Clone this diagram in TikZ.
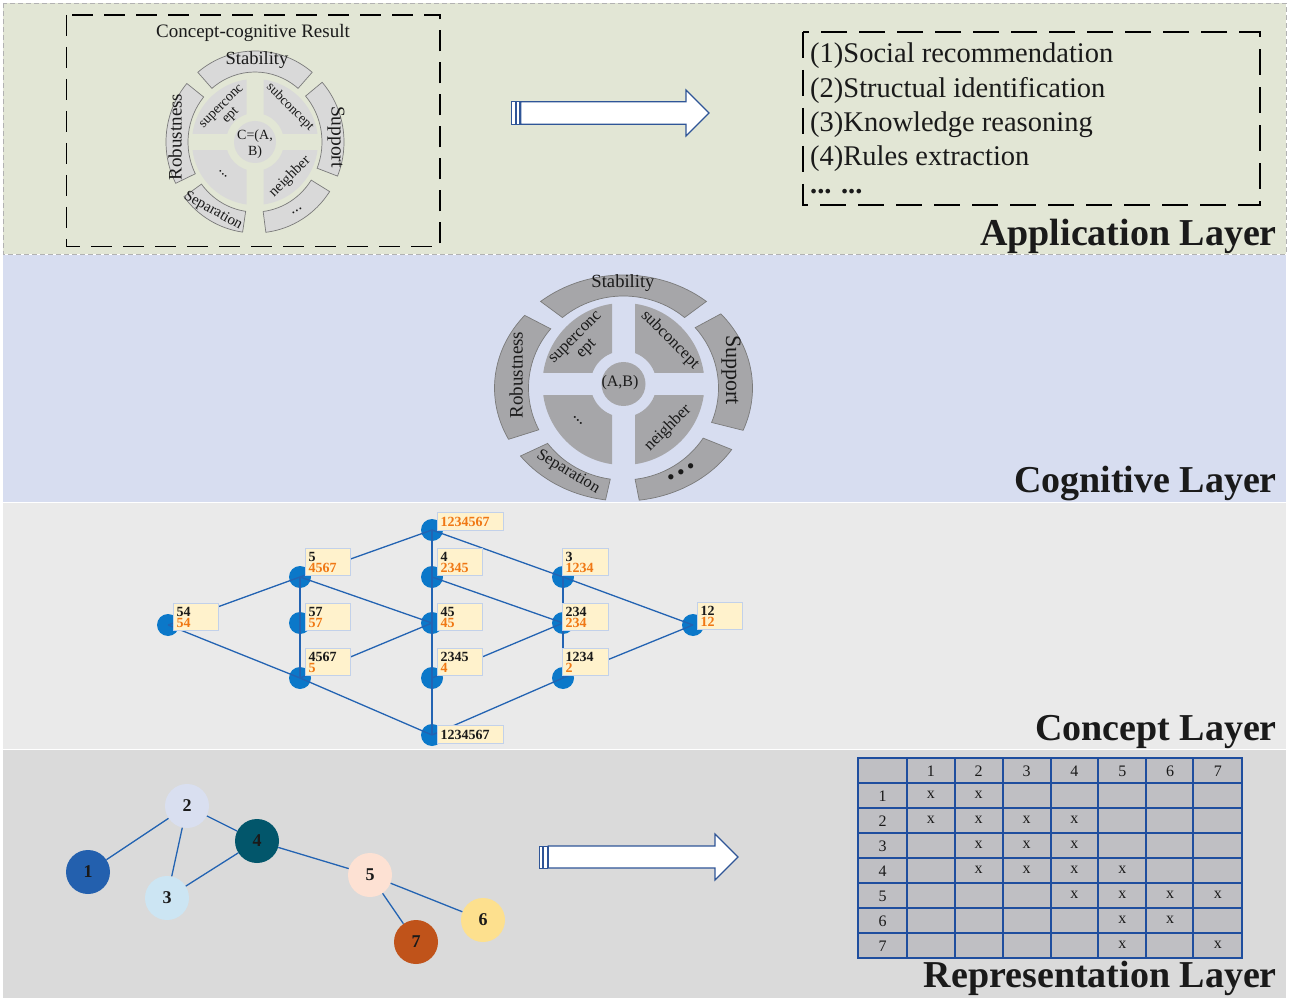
\documentclass[tikz,border=0pt]{standalone}
\usepackage{fontspec}
\setmainfont{Liberation Serif}
\usetikzlibrary{calc}

\definecolor{appbg}{HTML}{E2E6D5}
\definecolor{cogbg}{HTML}{D7DDF0}
\definecolor{conbg}{HTML}{EAEAEA}
\definecolor{repbg}{HTML}{DADADA}
\definecolor{inkc}{HTML}{1A1A1A}
\definecolor{wheellight}{HTML}{D9D9D9}
\definecolor{wheeldark}{HTML}{A6A6A9}
\definecolor{wheeledge}{HTML}{7A7A7A}
\definecolor{edgeblue}{HTML}{2363B2}
\definecolor{dotblue}{HTML}{0B78C9}
\definecolor{tagfill}{HTML}{FFF2CC}
\definecolor{tagedge}{HTML}{C2D1EA}
\definecolor{tagorange}{HTML}{F07814}
\definecolor{arrowblue}{HTML}{2F5597}
\definecolor{gridblue}{HTML}{1F4E9E}
\definecolor{cellgray}{HTML}{BFBFC3}
\definecolor{vOne}{HTML}{2360AE}
\definecolor{vTwo}{HTML}{D9DFF0}
\definecolor{vThree}{HTML}{CCE5F3}
\definecolor{vFour}{HTML}{02566B}
\definecolor{vFive}{HTML}{FDE1D3}
\definecolor{vSix}{HTML}{FDE08E}
\definecolor{vSeven}{HTML}{C0531A}

\newcommand\pxfont[1]{\fontsize{#1}{#1}\selectfont}

% quadrants of a wheel, centred at the local origin (y pointing up)
\newcommand\wheelbody{%
  \foreach \sx/\sy in {1/1,-1/1,-1/-1,1/-1}{%
    \begin{scope}
      \clip (\sx*\WhGap,\sy*\WhGap) rectangle (\sx*\WhQuad*1.3,\sy*\WhQuad*1.3);
      \fill[wquad,even odd rule] (0,0) circle[radius=\WhQuad] (0,0) circle[radius=\WhCut];
    \end{scope}}%
  \fill[wquad] (0,0) circle[radius=\WhCore];
}
% the five outer ring segments of a wheel
\newcommand\wheelring{%
  \foreach \ta/\tb in {50/130,140/207,217/262,277/327,-22/41}{%
    \draw[wring] ({\WhAo*cos(\ta)},{\WhBo*sin(\ta)})
      arc[start angle=\ta,end angle=\tb,x radius=\WhAo,y radius=\WhBo]
      -- ({\WhAi*cos(\tb)},{\WhBi*sin(\tb)})
      arc[start angle=\tb,end angle=\ta,x radius=\WhAi,y radius=\WhBi] -- cycle;}%
}

\begin{document}
\begin{tikzpicture}[x=1pt,y=-1pt,
  every node/.style={text=inkc},
  layertitle/.style={font=\bfseries\pxfont{38}, inner sep=0pt},
  wtext/.style={inner sep=0pt, align=center},
  latnode/.style={circle, fill=dotblue, minimum size=22pt, inner sep=0pt},
  latedge/.style={draw=edgeblue, line width=1.3pt},
  tag/.style={anchor=north west, fill=tagfill, draw=tagedge, line width=1.4pt,
    inner sep=3pt, text width=#1, align=left, minimum height=27pt,
    font=\bfseries\fontsize{14}{11}\selectfont},
  tag/.default=39pt,
  vtx/.style={circle, minimum size=44pt, inner sep=0pt, font=\bfseries\pxfont{18}},
  gedge/.style={draw=edgeblue, line width=1.3pt},
  tcell/.style={inner sep=0pt, font=\pxfont{16}},
  barrow/.style={draw=arrowblue, fill=white, line width=1.2pt, line join=miter},
]
\useasboundingbox (0,0) rectangle (1291,1000);

% ---------- layer bands ----------
\fill[appbg] (3,3) rectangle (1286,254);
\draw[gray!60, line width=0.8pt, dash pattern=on 5pt off 3pt] (3,3) rectangle (1286,254);
\fill[cogbg] (3,255) rectangle (1286,502);
\fill[conbg] (3,503) rectangle (1286,749);
\fill[repbg] (3,750) rectangle (1286,998);

\node[layertitle, anchor=base east] (tApp) at (1277,246) {Application Layer};
\node[layertitle, anchor=base east] (tCog) at (1277,492) {Cognitive Layer};
\node[layertitle, anchor=base east] (tCon) at (1277,740) {Concept Layer};
\node[layertitle, anchor=base east] (tRep) at (1277,987) {Representation Layer};

% ---------- application layer ----------
\draw[black, line width=1.4pt, dash pattern=on 21pt off 11pt] (66.5,15) rectangle (440,246.5);
\node[inner sep=0pt, anchor=base, font=\pxfont{19}] (ccr) at (253,38) {Concept-cognitive Result};

% small wheel
\begin{scope}[shift={(255,142)}, yscale=-1,
    wquad/.style={fill=wheellight},
    wring/.style={fill=wheellight, draw=wheeledge, line width=0.7pt}]
  \def\WhGap{8.5}\def\WhQuad{63}\def\WhCut{29}\def\WhCore{21}
  \def\WhAo{89}\def\WhBo{91}\def\WhAi{67}\def\WhBi{70}
  \wheelbody
  \wheelring
\end{scope}
\node[wtext, font=\pxfont{18.5}] (sStab) at (257,60) {Stability};
\node[wtext, font=\pxfont{19}, rotate=90] (sRob) at (175,137) {Robustness};
\node[wtext, font=\pxfont{19.5}, rotate=-90] (sSup) at (336,137) {Support};
\node[wtext, font=\pxfont{15}, rotate=-29] (sSep) at (213,211) {Separation};
\node[wtext, font=\pxfont{16}, rotate=30] (sMore) at (297,211) {...};
\node[wtext, font=\fontsize{14}{13}\selectfont, rotate=45] (sSuper) at (227,112) {superconc\\ept};
\node[wtext, font=\pxfont{13.6}, rotate=-45] (sSub) at (290,107) {subconcept};
\node[wtext, font=\pxfont{14.8}, rotate=45] (sNei) at (290,177) {neighber};
\node[wtext, font=\pxfont{15}, rotate=-45] (sEtc) at (223,174) {...};
\node[wtext, font=\fontsize{14}{16}\selectfont] (sCore) at (255,144) {C=(A,\\B)};

% block arrow towards the applications
\fill[white, draw=arrowblue, line width=0.9pt] (511.7,101.7) rectangle (515,124.3);
\fill[white, draw=arrowblue, line width=0.9pt] (516,101.7) rectangle (519.7,124.3);
\draw[barrow] (520.7,101.7) -- (686,101.7) -- (686,90) -- (709,113) -- (686,136) -- (686,124.3) -- (520.7,124.3) -- cycle;

% application list
\draw[black, line width=1.4pt, dash pattern=on 26pt off 12pt] (803,32) rectangle (1260,205);
\node[anchor=base west, inner sep=0pt, font=\pxfont{28.5}] (ap1) at (810,62.7) {(1)Social recommendation};
\node[anchor=base west, inner sep=0pt, font=\pxfont{28.5}] (ap2) at (810,97.2) {(2)Structual identification};
\node[anchor=base west, inner sep=0pt, font=\pxfont{28.5}] (ap3) at (810,131.4) {(3)Knowledge reasoning};
\node[anchor=base west, inner sep=0pt, font=\pxfont{28.5}] (ap4) at (810,165.7) {(4)Rules extraction};
\node[anchor=base west, inner sep=0pt, font=\bfseries\pxfont{28.5}] (ap5) at (810,194) {... ...};

% ---------- cognitive layer ----------
\begin{scope}[shift={(623.5,384)}, yscale=-1, wquad/.style={fill=wheeldark}]
  \def\WhGap{11.5}\def\WhQuad{81}\def\WhCut{33}\def\WhCore{22}
  \wheelbody
\end{scope}
\begin{scope}[shift={(623.5,388)}, yscale=-1,
    wring/.style={fill=wheeldark, draw=wheeledge, line width=0.7pt}]
  \def\WhAo{129}\def\WhBo{113}\def\WhAi{95}\def\WhBi{92}
  \wheelring
\end{scope}
\node[wtext, font=\pxfont{18.6}] (cStab) at (623,283) {Stability};
\node[wtext, font=\pxfont{19}, rotate=90] (cRob) at (516,375) {Robustness};
\node[wtext, font=\pxfont{22}, rotate=-90] (cSup) at (731,370) {Support};
\node[wtext, font=\pxfont{16.5}, rotate=-31] (cSep) at (568,472) {Separation};
\node[wtext, font=\pxfont{22}, rotate=29] (cMore) at (682,474) {\textbullet\,\textbullet\,\textbullet};
\node[wtext, font=\fontsize{16.7}{16}\selectfont, rotate=45] (cSuper) at (582,344) {superconc\\ept};
\node[wtext, font=\pxfont{16.7}, rotate=-45] (cSub) at (670,340) {subconcept};
\node[wtext, font=\pxfont{16.8}, rotate=45] (cNei) at (668,428) {neighber};
\node[wtext, font=\pxfont{17}, rotate=-45] (cEtc) at (578,420) {...};
\node[wtext, font=\pxfont{16}] (cCore) at (620,383) {(A,B)};

% ---------- concept layer ----------
\foreach \n/\x/\y in {a/168/625, b1/300/577, b2/300/623, b3/300/678,
    t/432/530, c1/432/577, c2/432/623, c3/432/678, bt/432/735,
    d1/563/577, d2/563/623, d3/563/678, e/693/625}
  \node[latnode] (\n) at (\x,\y) {};

\foreach \p/\q in {a/b1, a/b3, b3/bt, b1/t, b1/b2, b2/b3, b1/c2, b3/c2,
    t/c1, c1/c2, c2/c3, c3/bt, t/d1, d1/e, c1/d2, c3/d2, d1/d2, d2/d3, d3/e, bt/d3}
  \draw[latedge] (\p.center) -- (\q.center);

\node[tag] (ga) at (173,603) {54\\\textcolor{tagorange}{54}};
\node[tag] (gb1) at (305,548) {5\\\textcolor{tagorange}{4567}};
\node[tag] (gb2) at (305,603) {57\\\textcolor{tagorange}{57}};
\node[tag] (gb3) at (305,648) {4567\\\textcolor{tagorange}{5}};
\node[tag=60pt, minimum height=18pt] (gt) at (437,512) {\textcolor{tagorange}{1234567}};
\node[tag] (gc1) at (437,548) {4\\\textcolor{tagorange}{2345}};
\node[tag] (gc2) at (437,603) {45\\\textcolor{tagorange}{45}};
\node[tag] (gc3) at (437,648) {2345\\\textcolor{tagorange}{4}};
\node[tag=60pt, minimum height=18pt] (gbt) at (437,725) {1234567};
\node[tag=40pt] (gd1) at (562,548) {3\\\textcolor{tagorange}{1234}};
\node[tag=40pt] (gd2) at (562,603) {234\\\textcolor{tagorange}{234}};
\node[tag=40pt] (gd3) at (562,648) {1234\\\textcolor{tagorange}{2}};
\node[tag] (ge) at (697,602) {12\\\textcolor{tagorange}{12}};

% ---------- representation layer ----------
\node[vtx, fill=vOne] (v1) at (88,872) {1};
\node[vtx, fill=vTwo] (v2) at (187,806) {2};
\node[vtx, fill=vThree] (v3) at (167,898) {3};
\node[vtx, fill=vFour] (v4) at (257,841) {4};
\node[vtx, fill=vFive] (v5) at (370,875) {5};
\node[vtx, fill=vSix] (v6) at (483,920) {6};
\node[vtx, fill=vSeven] (v7) at (416,942) {7};
\foreach \p/\q in {v1/v2, v2/v3, v2/v4, v3/v4, v4/v5, v5/v6, v5/v7}
  \draw[gedge] (\p) -- (\q);

% block arrow towards the adjacency table
\fill[white, draw=arrowblue, line width=0.9pt] (539,846) rectangle (542.5,868);
\fill[white, draw=arrowblue, line width=0.9pt] (543.5,846) rectangle (547.2,868);
\draw[barrow] (548.2,846) -- (715,846) -- (715,834) -- (738,857) -- (715,880) -- (715,868) -- (548.2,868) -- cycle;

% adjacency table
\fill[cellgray] (858.3,758.3) rectangle (1241.7,958.3);
\foreach \x in {858.3,906.7,955,1002.7,1050.7,1098.3,1146,1193.3,1241.7}
  \draw[gridblue, line width=1.8pt] (\x,758.3) -- (\x,958.3);
\foreach \y in {758.3,783.3,808.3,833.3,858.3,883.3,908.3,933.3,958.3}
  \draw[gridblue, line width=1.8pt] (857.4,\y) -- (1242.6,\y);
\foreach \i in {1,...,7}{
  \node[tcell] (col-\i) at ({930.85+47.85*(\i-1)},771) {\i};
  \node[tcell] (row-\i) at (882.5,{796+25*(\i-1)}) {\i};
}
\foreach \r/\c in {1/1,1/2, 2/1,2/2,2/3,2/4, 3/2,3/3,3/4, 4/2,4/3,4/4,4/5,
    5/4,5/5,5/6,5/7, 6/5,6/6, 7/5,7/7}
  \node[tcell] (x-\r-\c) at ({930.85+47.85*(\c-1)},{794.5+25*(\r-1)}) {x};

\end{tikzpicture}
\end{document}
